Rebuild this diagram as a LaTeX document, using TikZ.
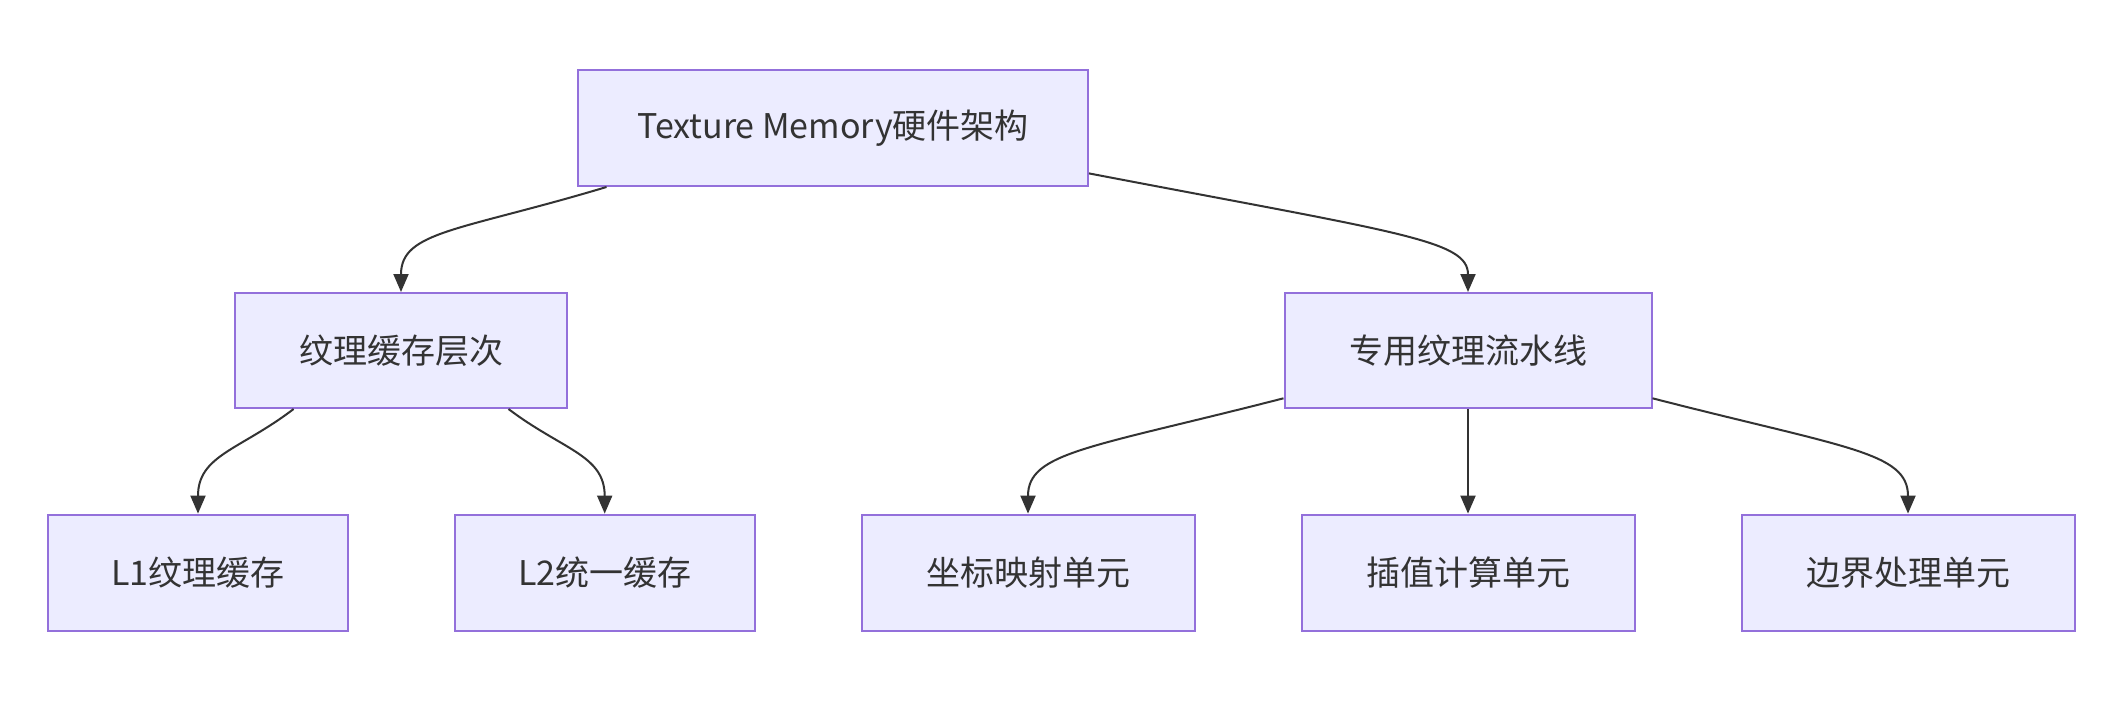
\documentclass[tikz,border=0pt]{standalone}
\usepackage{fontspec}
\setmainfont{Noto Sans CJK SC}
\usetikzlibrary{arrows.meta,calc}
\definecolor{boxfill}{HTML}{ECECFF}
\definecolor{boxline}{HTML}{9370DB}
\definecolor{edgecol}{HTML}{333333}
\begin{document}
\begin{tikzpicture}[x=0.5pt,y=-0.5pt,
  box/.style={draw=boxline,fill=boxfill,line width=1pt,rectangle,inner sep=0pt,
    text=edgecol,font=\fontsize{17pt}{20pt}\selectfont},
  conn/.style={draw=edgecol,line width=1pt,-{Triangle[length=9pt,width=7.5pt]}}]
\useasboundingbox (0,0) rectangle (2116,712);
\fill[white] (0,0) rectangle (2116,712);
\node[box,minimum width=255pt,minimum height=58pt] (top) at (833,128) {Texture Memory硬件架构};
\node[box,minimum width=166pt,minimum height=57.5pt] (cache) at (401,350.5) {纹理缓存层次};
\node[box,minimum width=183.5pt,minimum height=57.5pt] (pipe) at (1468,350.5) {专用纹理流水线};
\node[box,minimum width=150pt,minimum height=58pt] (l1) at (198,572.6) {L1纹理缓存};
\node[box,minimum width=150pt,minimum height=58pt] (l2) at (604.7,572.6) {L2统一缓存};
\node[box,minimum width=166.5pt,minimum height=58pt] (coord) at (1028,572.6) {坐标映射单元};
\node[box,minimum width=166.5pt,minimum height=58pt] (interp) at (1468,572.6) {插值计算单元};
\node[box,minimum width=166.5pt,minimum height=58pt] (bound) at (1908,572.6) {边界处理单元};
\draw[conn] ($(top.south west)+(29.5,0)$) .. controls (460,231) and (401,231) .. (cache.north);
\draw[conn] ($(top.south east)+(0,-13.6)$) .. controls (1400,233) and (1468,240) .. (pipe.north);
\draw[conn] ($(cache.south west)+(59.6,0)$) .. controls (240,450) and (198,455) .. (l1.north);
\draw[conn] ($(cache.south east)+(-59.5,0)$) .. controls (562.6,450) and (604.7,455) .. (l2.north);
\draw[conn] ($(pipe.south west)+(0,-10.7)$) .. controls (1090,448) and (1028,452) .. (coord.north);
\draw[conn] (pipe.south) -- (interp.north);
\draw[conn] ($(pipe.south east)+(0,-10.7)$) .. controls (1846,448) and (1908,452) .. (bound.north);
\end{tikzpicture}
\end{document}
